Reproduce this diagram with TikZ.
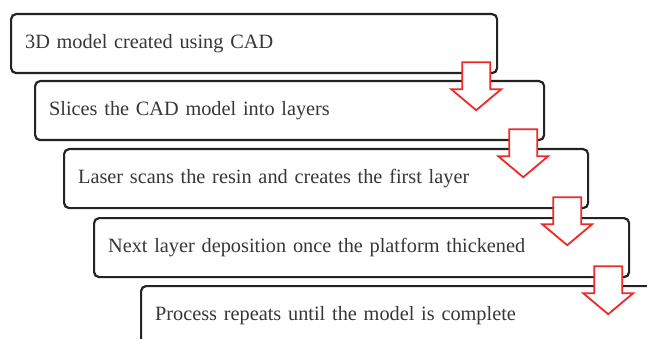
\documentclass[tikz,border=0pt]{standalone}
\usepackage{fontspec}
\setmainfont{Liberation Serif}
\usetikzlibrary{calc}
\definecolor{boxline}{RGB}{35,35,35}
\definecolor{txt}{RGB}{55,55,55}
\definecolor{arrred}{RGB}{240,40,40}
\tikzset{
  stepbox/.style={draw=boxline, line width=2.2pt, rounded corners=5pt, fill=white,
    anchor=north west, minimum height=59pt, inner xsep=14pt, inner ysep=0pt,
    align=left, text=txt, font=\fontsize{20.3}{24}\selectfont},
  blockarrow/.style={draw=arrred, line width=1.8pt, fill=white, line join=miter}
}
\begin{document}
\begin{tikzpicture}[x=1pt,y=-1pt]
\useasboundingbox (0,0) rectangle (647,339);
\clip (0,0) rectangle (647,339);
\node[stepbox, text width=458pt] (b1) at (10,13) {3D model created using CAD};
\node[stepbox, text width=481pt] (b2) at (34,80) {Slices the CAD model into layers};
\node[stepbox, text width=496pt] (b3) at (63,148) {Laser scans the resin and creates the first layer};
\node[stepbox, text width=507pt] (b4) at (93,217) {Next layer deposition once the platform thickened};
\node[stepbox, text width=532pt, minimum height=60pt] (b5) at (140,285) {Process repeats until the model is complete};
\foreach \b in {b1,b2,b3,b4}{
  \draw[blockarrow] ([shift={(-36,-12)}]\b.south east) -- ++(28,0) -- ++(0,27) -- ++(11,0)
    -- ++(-25,21) -- ++(-25,-21) -- ++(11,0) -- cycle;
}
\end{tikzpicture}
\end{document}
